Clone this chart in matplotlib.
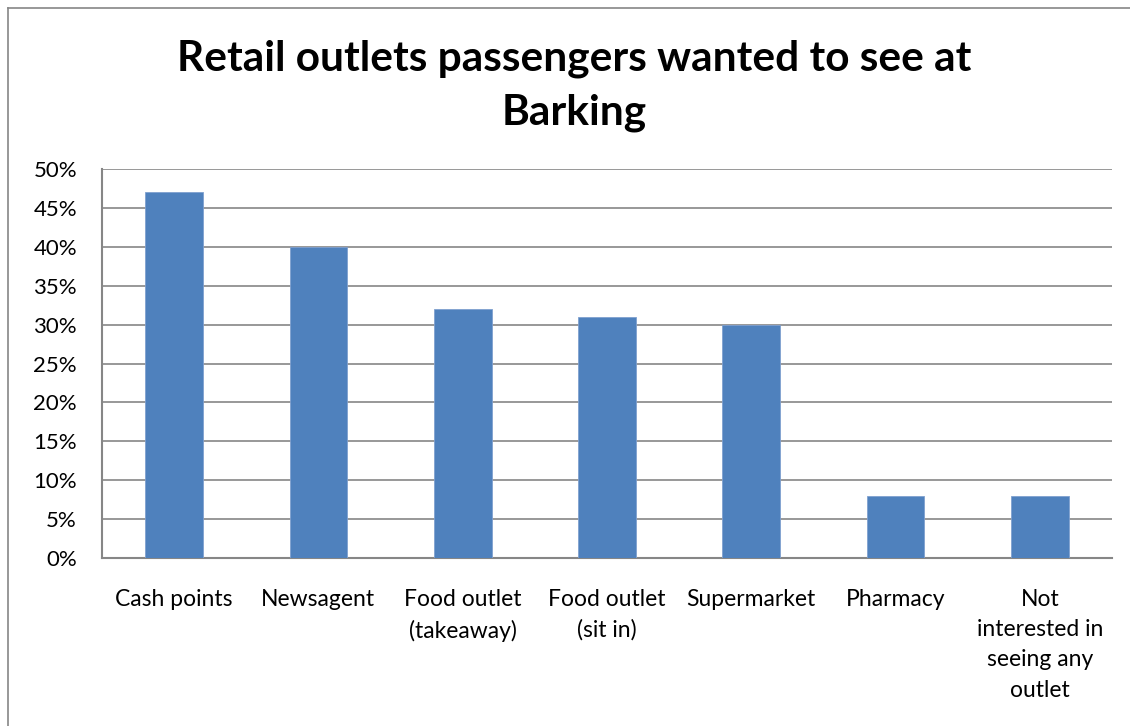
import matplotlib
matplotlib.use("Agg")
import matplotlib.pyplot as plt
from matplotlib.lines import Line2D
from matplotlib.ticker import PercentFormatter

categories = ["Cash points", "Newsagent", "Food outlet\n(takeaway)", "Food outlet\n(sit in)",
              "Supermarket", "Pharmacy", "Not\ninterested in\nseeing any\noutlet"]
values = [47, 40, 32, 31, 30, 8, 8]
yticks = [0, 5, 10, 15, 20, 25, 30, 35, 40, 45, 50]
title = "Retail outlets passengers wanted to see at\nBarking"

plt.rcParams['font.family'] = ['Lato', 'DejaVu Sans']

W, H = 1130, 726
fig = plt.figure(figsize=(W/100, H/100), dpi=100)
ax = fig.add_axes([102/W, 1-558/H, (1112-102)/W, (558-169)/H])

x = list(range(len(categories)))
ax.bar(x, values, width=0.4, color="#4F81BD", edgecolor="#7FA0CF", linewidth=0.6, zorder=3)
ax.set_xlim(-0.5, len(categories)-0.5)
ax.set_ylim(0, 50)
ax.set_yticks(yticks)
ax.yaxis.set_major_formatter(PercentFormatter(decimals=0))
ax.grid(axis='y', color="#868686", linewidth=1.2, zorder=0)
ax.set_xticks(x)
ax.set_xticklabels(categories, fontsize=16.5, linespacing=1.55, va='top')
ax.tick_params(axis='x', length=0, labelsize=16.5, pad=22)
ax.tick_params(axis='y', length=0, labelsize=16, pad=18)
for s in ['top', 'right']:
    ax.spines[s].set_visible(False)
for s in ['left', 'bottom']:
    ax.spines[s].set_color("#868686")
    ax.spines[s].set_linewidth(1.5)

fig.text(574/W, 1-86/H, title, ha='center', va='center', fontsize=30.5, fontweight='bold',
         linespacing=1.5)

# outer chart border (partially cropped)
fig.add_artist(Line2D([8/W, 8/W], [0, 1-8/H], color="#868686", linewidth=1.2, transform=fig.transFigure))
fig.add_artist(Line2D([8/W, 1], [1-8/H, 1-8/H], color="#868686", linewidth=1.2, transform=fig.transFigure))

fig.savefig("out.png", dpi=100)
